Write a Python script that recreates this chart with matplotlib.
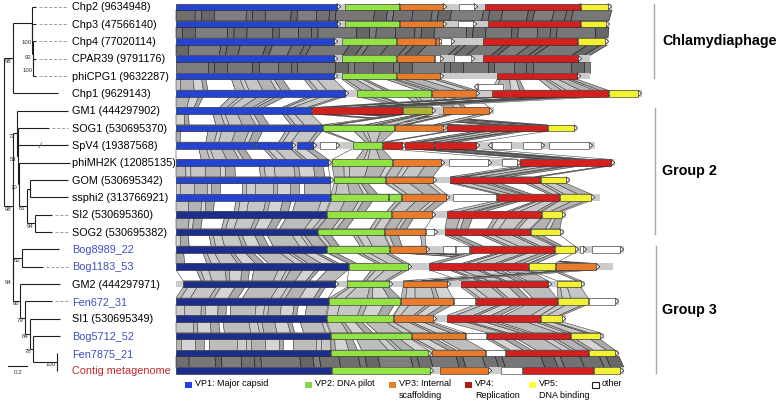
import matplotlib.pyplot as plt
from matplotlib.patches import Polygon, Rectangle
import numpy as np

plt.rcParams['font.family'] = ['Liberation Sans', 'DejaVu Sans']

# genome labels, top to bottom
names = ["Chp2 (9634948)", "Chp3 (47566140)", "Chp4 (77020114)", "CPAR39 (9791176)",
         "phiCPG1 (9632287)", "Chp1 (9629143)", "GM1 (444297902)", "SOG1 (530695370)",
         "SpV4 (19387568)", "phiMH2K (12085135)", "GOM (530695342)", "ssphi2 (313766921)",
         "SI2 (530695360)", "SOG2 (530695382)", "Bog8989_22", "Bog1183_53",
         "GM2 (444297971)", "Fen672_31", "SI1 (530695349)", "Bog5712_52", "Fen7875_21",
         "Contig metagenome"]
origin = ['ref'] * 14 + ['new', 'new', 'ref', 'new', 'ref', 'new', 'new', 'meta']

# genes: (start, end, protein, strand) in map units
chp2 = [(176, 337, 'VP1', 1), (345, 399, 'VP2', 1), (400, 443, 'VP3', 1), (459, 474, 'oth', 1), (485, 580, 'VP4', 1), (581, 608, 'VP5', 1)]
chp3 = [(176, 337, 'VP1', 1), (345, 399, 'VP2', 1), (400, 443, 'VP3', 1), (458, 473, 'oth', 1), (488, 580, 'VP4', 1), (581, 606, 'VP5', 1)]
chp4 = [(176, 334, 'VP1', 1), (342, 396, 'VP2', 1), (397, 435, 'VP3', 1), (436, 439, 'VP3', 1), (441, 451, 'oth', 1), (483, 577, 'VP4', 1), (578, 605, 'VP5', 1)]
cpar39 = [(176, 334, 'VP1', 1), (342, 396, 'VP2', 1), (397, 434, 'VP3', 1), (435, 440, 'oth', 1), (454, 471, 'oth', 1), (483, 578, 'VP4', 1)]
phicpg1 = [(176, 334, 'VP1', 1), (342, 396, 'VP2', 1), (397, 440, 'VP3', 1), (497, 577, 'VP4', 1)]
chp1 = [(176, 345, 'VP1', 1), (357, 431, 'VP2', 1), (432, 476, 'VP3', 1), (492, 608, 'VP4', 1), (609, 638, 'VP5', 1)]
gm1 = [(176, 311, 'VP1', 1), (312, 402, 'VP4', 1), (403, 432, 'VP2x', 1), (443, 489, 'VP3', 1)]
sog1 = [(176, 322, 'VP1', 1), (323, 394, 'VP2', 1), (395, 443, 'VP3', 1), (447, 547, 'VP4', 1), (548, 574, 'VP5', 1)]
spv4 = [(176, 255, 'VP1', 1), (256, 292, 'VP1', 1), (297, 313, 'VP1', 1), (320, 336, 'oth', 1), (353, 382, 'VP2', 1),
        (383, 402, 'VP4', 1), (405, 434, 'VP4', 1), (435, 476, 'VP4', 1), (492, 511, 'oth', -1), (523, 541, 'oth', 1), (549, 589, 'oth', 1)]
phimh2k = [(176, 328, 'VP1', 1), (332, 392, 'VP2', 1), (393, 441, 'VP3', 1), (449, 488, 'oth', 1), (502, 517, 'oth', 1), (520, 611, 'VP4', 1)]
gom = [(176, 330, 'VP1', 1), (334, 385, 'VP2', 1), (386, 433, 'VP3', 1), (450, 540, 'VP4', 1), (541, 566, 'VP5', 1)]
ssphi2 = [(176, 330, 'VP1', 1), (331, 388, 'VP2', 1), (389, 401, 'VP2', 1), (402, 446, 'VP3', 1), (453, 496, 'oth', 1), (497, 559, 'VP4', 1), (560, 591, 'VP5', 1)]
si2 = [(176, 326, 'VP1', 1), (327, 391, 'VP2', 1), (392, 432, 'VP3', 1), (447, 541, 'VP4', 1), (542, 562, 'VP5', 1)]
sog2 = [(176, 317, 'VP1', 1), (318, 384, 'VP2', 1), (385, 425, 'VP3', 1), (426, 434, 'oth', 1), (445, 530, 'VP4', 1), (531, 560, 'VP5', 1)]
bog8989 = [(176, 326, 'VP1', 1), (327, 389, 'VP2', 1), (390, 426, 'VP3', 1), (443, 455, 'oth', 1), (456, 469, 'oth', 1),
           (470, 554, 'VP4', 1), (555, 575, 'VP5', 1), (580, 583, 'oth', 1), (592, 620, 'oth', 1)]
bog1183 = [(176, 348, 'VP1', 1), (349, 408, 'VP2', 1), (429, 528, 'VP4', 1), (529, 555, 'VP5', 1), (556, 596, 'VP3', 1)]
gm2 = [(183, 335, 'VP1', 1), (347, 389, 'VP2', 1), (403, 447, 'VP3', 1), (461, 548, 'VP4', 1), (557, 581, 'VP5', 1)]
fen672 = [(176, 328, 'VP1', 1), (329, 400, 'VP2', 1), (401, 453, 'VP3', 1), (454, 475, 'oth', 1), (476, 557, 'VP4', 1), (558, 588, 'VP5', 1), (589, 615, 'oth', 1)]
si1 = [(176, 326, 'VP1', 1), (327, 393, 'VP2', 1), (394, 433, 'VP3', 1), (447, 540, 'VP4', 1), (541, 562, 'VP5', 1)]
bog5712 = [(176, 330, 'VP1', 1), (331, 411, 'VP2', 1), (412, 465, 'VP3', 1), (466, 486, 'oth', 1), (487, 570, 'VP4', 1), (571, 600, 'VP5', 1)]
fen7875 = [(176, 330, 'VP1', 1), (331, 428, 'VP2', 1), (432, 485, 'VP3', 1), (486, 505, 'oth', 1), (506, 588, 'VP4', 1), (589, 615, 'VP5', 1)]
contig = [(176, 331, 'VP1', 1), (332, 430, 'VP2', 1), (440, 488, 'VP3', 1), (501, 522, 'oth', 1), (523, 593, 'VP4', 1), (594, 620, 'VP5', 1)]
maps = [chp2, chp3, chp4, cpar39, phicpg1, chp1, gm1, sog1, spv4, phimh2k, gom, ssphi2,
        si2, sog2, bog8989, bog1183, gm2, fen672, si1, bog5712, fen7875, contig]
# overlapping ORF drawn above its genome (row, start, end)
lifted = [(5, 478, 503)]

track_start = [176] * 22
track_end = [612, 609, 608, 590, 590, 642, 494, 577, 595, 615, 570, 600,
             566, 564, 624, 613, 585, 619, 566, 604, 619, 624]
# pairs of neighbours with near identical genomes
close_pairs = [(0, 1), (1, 2), (2, 3), (3, 4), (20, 21)]

# tree: (node x, bootstrap, children), ints are leaf rows
tree = (4, '', [
    (13, '98', [
        (32, '', [0, (32.5, '100', [1, (33, '92', [2, (33.5, '100', [3, 4])])])]),
        5]),
    (12.7, '98', [
        (16.7, '72', [6, (18, '53', [7, 8, (19, '70', [9, (27, '81', [(30, '', [10, 11]), (35, '94', [12, 13])])])])]),
        (13, '94', [(21.7, '62', [14, 15]),
                    (20, '66', [16, (25, '79', [17, (30, '84', [18, (33, '78', [19, (57, '100', [20, 21])])])])])]),
    ]),
])
leaf_end = [36, 36, 36, 36, 36, 58, 68, 49, 68, 70, 68, 68, 52, 52, 59, 43, 60, 52, 60, 60, 57, 57]
leaf_dash = [1, 1, 1, 1, 1, 0, 0, 1, 0, 0, 0, 0, 1, 1, 0, 1, 0, 1, 0, 0, 0, 0]

groups = ["Chlamydiaphage", "Group 2", "Group 3"]
group_rows = [(0, 4), (6, 13), (14, 21)]

legend_keys = ['VP1', 'VP2', 'VP3', 'VP4', 'VP5', 'oth']
legend_text = ["VP1: Major capsid", "VP2: DNA pilot", "VP3: Internal\nscaffolding",
               "VP4:\nReplication", "VP5:\nDNA binding", "other"]

colors = {'VP1': '#2443cf', 'VP2': '#93e345', 'VP2x': '#b3b333', 'VP3': '#e97b2c',
          'VP4': '#d41f1f', 'VP5': '#f2f233', 'oth': '#ffffff'}
legend_colors = ['#2040e8', '#80d848', '#e0832a', '#b01c10', '#ffff33', '#ffffff']

fig = plt.figure(figsize=(7.78, 4.08), dpi=100)
ax = fig.add_axes([0, 0, 1, 1])
ax.set_xlim(0, 778)
ax.set_ylim(408, 0)
ax.axis('off')

row_y = 6.7 + 17.33 * np.arange(len(names))
h = 6.4

# ---- links between neighbouring genomes ----
light = ['#c6c6c6', '#b4b4b4', '#d4d4d4', '#ababab', '#ffffff', '#bdbdbd', '#cccccc']
dark = ['#6f6f6f', '#777777', '#676767', '#7e7e7e', '#727272']
widths = [3, 1, 2, 5, 1, 2, 4, 1, 3, 2, 1, 6, 2, 1, 3]


def link(a0, a1, b0, b1, yt, yb, shades, ec, k, step):
    n = max(1, int(round(max(a1 - a0, b1 - b0) / step)))
    w = np.cumsum([0] + [widths[(j + k) % len(widths)] for j in range(n)])
    f = w / w[-1]
    xa = a0 + f * (a1 - a0)
    xb = b0 + f * (b1 - b0)
    for j in range(n):
        ax.add_patch(Polygon([(xa[j], yt), (xa[j + 1], yt), (xb[j + 1], yb), (xb[j], yb)],
                             closed=True, fc=shades[(j + k) % len(shades)], ec=ec, lw=0.4, zorder=1))


def extents(genes):
    out = {}
    for s, e, p, d in genes:
        p = 'VP2' if p == 'VP2x' else p
        if p == 'oth':
            continue
        lo, hi = out.get(p, (s, e))
        out[p] = (min(lo, s), max(hi, e))
    return out


for i in range(len(maps) - 1):
    yt = row_y[i] + h / 2
    yb = row_y[i + 1] - h / 2
    if (i, i + 1) in close_pairs:
        link(track_start[i], track_end[i], track_start[i + 1], track_end[i + 1], yt, yb, dark, '#151515', i, 16)
    else:
        ea, eb = extents(maps[i]), extents(maps[i + 1])
        for p in ea:
            if p in eb:
                link(ea[p][0], ea[p][1], eb[p][0], eb[p][1], yt, yb, light, '#444444', i + len(p), 11)

# ---- genomes ----
for i, genes in enumerate(maps):
    y = row_y[i]
    ax.add_patch(Rectangle((track_start[i], y - h / 2), track_end[i] - track_start[i], h,
                           fc='#cbcbcb', ec='none', zorder=2))
    for s, e, p, d in genes:
        if d > 0:
            tri = [(e, y - h / 2), (e, y + h / 2), (e + 3.8, y)]
        else:
            tri = [(s, y - h / 2), (s, y + h / 2), (s - 3.8, y)]
        ax.add_patch(Polygon(tri, closed=True, fc='white', ec='#222222', lw=0.5, zorder=3))
    for s, e, p, d in genes:
        c = colors[p]
        if p == 'VP1' and i >= 12:
            c = '#1c2d8c'
        ax.add_patch(Rectangle((s, y - h / 2), e - s, h, fc=c, ec='#262626', lw=0.4, zorder=4))

for r, s, e in lifted:
    y = row_y[r] - 6.5
    ax.add_patch(Rectangle((s - 3, y - h / 2), e - s + 5, h, fc='#cbcbcb', ec='none', zorder=2))
    ax.add_patch(Polygon([(s, y - h / 2), (s, y + h / 2), (s - 3.8, y)], closed=True,
                         fc='white', ec='#222222', lw=0.5, zorder=3))
    ax.add_patch(Rectangle((s, y - h / 2), e - s, h, fc='white', ec='#262626', lw=0.4, zorder=4))

# ---- labels ----
label_col = {'ref': 'black', 'new': '#3d4fc4', 'meta': '#c0282a'}
for i, nm in enumerate(names):
    ax.text(72, row_y[i] + 0.8, nm, fontsize=7.8, va='center', ha='left', color=label_col[origin[i]])

# ---- tree ----
lc = '#1e1e1e'


def draw(node):
    if isinstance(node, int):
        return 0, row_y[node]
    x, boot, kids = node
    ys = []
    for kid in kids:
        _, ky = draw(kid)
        ys.append(ky)
        kx = leaf_end[kid] if isinstance(kid, int) else kid[0]
        ax.plot([x, kx], [ky, ky], color=lc, lw=0.8, solid_capstyle='butt')
    y = (ys[0] + ys[-1]) / 2
    ax.plot([x, x], [ys[0], ys[-1]], color=lc, lw=0.8, solid_capstyle='butt')
    if boot:
        ax.text(x - 1.2, y + 3, boot, fontsize=4.3, ha='right', va='center', color='#333333')
    return x, y


draw(tree)
for i in range(len(names)):
    if leaf_dash[i]:
        ax.plot([leaf_end[i] + 3, 68], [row_y[i], row_y[i]], color='#9a9a9a', lw=0.7, dashes=(3, 2))
ax.plot([39, 41.5], [row_y[8] + 2.5, row_y[8] - 2.5], color='#777777', lw=0.6)

# scale bar
ax.plot([8.3, 27.3], [366, 366], color=lc, lw=0.8)
ax.text(17.8, 372, "0.2", fontsize=4.5, ha='center', va='center', color='#333333')

# ---- group brackets ----
bx = [654, 655, 656]
for (a, b), g, x in zip(group_rows, groups, bx):
    ax.plot([x, x], [row_y[a] - 3, row_y[b] + 2], color='#a8a8a8', lw=1)
    ax.text(662, (row_y[a] + row_y[b]) / 2, g, fontsize=10.3, fontweight='bold', va='center', ha='left')

# ---- legend ----
leg_x = [185, 305, 389, 465, 529, 592]
for k, t, c, x in zip(legend_keys, legend_text, legend_colors, leg_x):
    ax.add_patch(Rectangle((x, 381.5), 6.8, 6.8, fc=c, ec='#222222' if k == 'oth' else 'none', lw=0.8))
    ax.text(x + 10, 379.5, t, fontsize=6.5, ha='left', va='top', linespacing=1.35)

fig.savefig('out.png', dpi=100)
